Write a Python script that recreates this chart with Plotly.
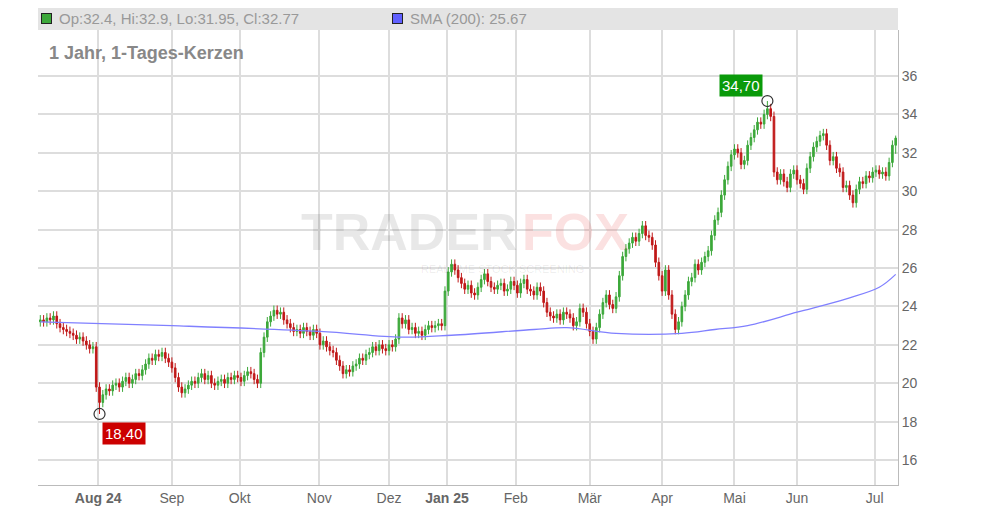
import plotly.graph_objects as go

closes = [
23.3,23.2,23.4,23.3,23.5,23.1,22.9,22.8,22.7,22.6,
22.5,22.3,22.4,22.2,22.0,21.8,21.9,19.8,19.0,19.4,
19.7,19.6,19.9,20.0,19.8,20.1,20.3,20.0,20.2,20.5,
20.4,20.7,21.0,21.3,21.2,21.5,21.4,21.6,21.3,21.1,
20.8,20.3,19.8,19.5,19.7,19.9,20.1,20.0,20.3,20.5,
20.2,20.4,20.0,19.9,20.1,20.2,20.0,20.3,20.2,20.4,
20.3,20.1,20.4,20.6,20.5,20.2,20.0,21.6,22.4,23.2,
23.5,23.8,23.6,23.7,23.3,23.1,22.9,22.7,22.8,22.6,
22.9,22.7,22.5,22.8,22.6,22.0,22.2,21.9,21.7,21.6,
21.2,20.9,20.5,20.7,20.6,20.9,21.0,21.3,21.2,21.5,
21.6,21.9,21.7,22.0,21.8,21.7,22.0,21.9,22.3,23.4,
23.1,23.3,22.8,22.9,22.6,22.7,22.5,22.8,23.0,22.9,
23.0,23.1,23.0,24.8,25.8,26.2,25.9,25.5,25.2,24.9,
25.1,24.7,24.6,25.0,25.4,25.7,25.3,25.0,24.9,25.1,
25.2,24.8,24.9,25.3,25.1,24.7,25.2,25.4,24.9,24.8,
24.6,25.0,24.8,24.2,23.7,23.5,23.4,23.6,23.3,23.7,
23.6,23.4,23.0,23.2,23.9,23.7,23.1,22.7,22.3,22.9,
23.6,24.2,24.6,24.1,23.9,24.5,25.6,26.6,27.0,27.3,
27.6,27.4,27.8,28.2,27.7,27.6,27.2,26.3,25.6,24.8,
25.9,24.6,23.6,22.8,23.2,24.0,24.6,25.3,25.5,26.2,
25.9,26.3,26.6,26.9,27.7,28.5,28.9,29.8,30.6,31.3,
31.9,32.2,32.0,31.4,31.6,32.4,32.8,33.2,33.6,33.5,
34.0,34.3,33.9,31.0,30.6,30.9,30.5,30.2,30.9,31.1,
30.6,30.4,30.1,31.2,31.8,32.3,32.6,32.9,33.0,32.4,
31.6,31.8,31.2,31.0,30.2,30.3,29.8,29.4,30.1,30.5,
30.4,30.8,30.7,31.0,31.1,30.9,31.0,30.8,31.5,32.4,
32.77]
first_open = 23.2
last_open, last_high, last_low = 32.4, 32.9, 31.95
low_idx, low_val = 18, 18.40
high_idx, high_val = 221, 34.70

sma_x = [0, 40, 85, 110, 125, 150, 160, 175, 195, 205, 215, 230, 245, 255, 260]
sma_y = [23.2, 23.0, 22.7, 22.4, 22.5, 22.8, 22.9, 22.6, 22.6, 22.8, 23.0, 23.7, 24.4, 25.0, 25.67]

month_pos = [17.6, 40, 60.6, 84.8, 106, 123.6, 144.5, 167, 189, 211, 230, 253.6]
month_lbl = ["<b>Aug 24</b>", "Sep", "Okt", "Nov", "Dez", "<b>Jan 25</b>", "Feb", "Mär", "Apr", "Mai", "Jun", "Jul"]

n = len(closes)
x = list(range(n))
opens = [first_open] + closes[:-1]
opens[-1] = last_open
highs = [max(o, c) + 0.25 for o, c in zip(opens, closes)]
lows = [min(o, c) - 0.25 for o, c in zip(opens, closes)]
highs[-1], lows[-1] = last_high, last_low
lows[low_idx] = low_val
highs[high_idx] = high_val

fig = go.Figure()
fig.add_trace(go.Scatter(x=sma_x, y=sma_y, mode="lines", line=dict(color="#8080ff", width=1.3, shape="spline"), hoverinfo="skip"))
fig.add_trace(go.Candlestick(x=x, open=opens, high=highs, low=lows, close=closes,
    increasing=dict(line=dict(color="#3ca83a", width=1), fillcolor="#3ca83a"),
    decreasing=dict(line=dict(color="#c01818", width=1), fillcolor="#c01818"),
    whiskerwidth=0))
fig.add_trace(go.Scatter(x=[low_idx, high_idx], y=[low_val, high_val], mode="markers",
    marker=dict(size=11, color="rgba(0,0,0,0)", line=dict(color="#333", width=1.2)), hoverinfo="skip"))

fig.add_annotation(x=low_idx, y=low_val, text="18,40", showarrow=False, xanchor="left", yanchor="top",
    xshift=2, yshift=-8, bgcolor="#cc0000", font=dict(color="white", size=15, family="Liberation Sans"), borderpad=2)
fig.add_annotation(x=high_idx, y=high_val, text="34,70", showarrow=False, xanchor="right", yanchor="bottom",
    xshift=-4, yshift=4, bgcolor="#0a9a0a", font=dict(color="white", size=15, family="Liberation Sans"), borderpad=2)

# header band
fig.add_shape(type="rect", xref="paper", yref="paper", x0=0, x1=1, y0=1.0, y1=1.05, fillcolor="#e4e4e4", line_width=0, layer="below")
for xx, col in [(0.004, "#3ca83a"), (0.412, "#6060ff")]:
    fig.add_annotation(xref="paper", yref="paper", x=xx, y=1.025, xanchor="left", yanchor="middle", showarrow=False,
        text=" ", width=9, height=9, bgcolor=col, bordercolor="#222", borderwidth=1, borderpad=0)
fig.add_annotation(xref="paper", yref="paper", x=0.022, y=1.025, xanchor="left", yanchor="middle", showarrow=False,
    text="Op:32.4, Hi:32.9, Lo:31.95, Cl:32.77", font=dict(size=15, color="#999", family="Liberation Sans"))
fig.add_annotation(xref="paper", yref="paper", x=0.43, y=1.025, xanchor="left", yanchor="middle", showarrow=False,
    text="SMA (200): 25.67", font=dict(size=15, color="#999", family="Liberation Sans"))
fig.add_annotation(xref="paper", yref="paper", x=0.01, y=0.975, xanchor="left", yanchor="top", showarrow=False,
    text="<b>1 Jahr, 1-Tages-Kerzen</b>", font=dict(size=18, color="#888", family="Liberation Sans"))
# watermark
fig.add_annotation(xref="paper", yref="paper", x=0.56, y=0.555, xanchor="right", showarrow=False,
    text="<b>TRADER</b>", font=dict(size=52, color="rgba(0,0,0,0.09)", family="Liberation Sans"))
fig.add_annotation(xref="paper", yref="paper", x=0.56, y=0.555, xanchor="left", showarrow=False,
    text="<b>FOX</b>", font=dict(size=52, color="rgba(230,70,70,0.16)", family="Liberation Sans"))
fig.add_annotation(xref="paper", yref="paper", x=0.54, y=0.475, showarrow=False,
    text="REALTIME STOCK SCREENING", font=dict(size=11, color="rgba(0,0,0,0.08)", family="Liberation Sans"))

fig.update_layout(width=992, height=511, margin=dict(l=30, r=102, t=22, b=34),
    paper_bgcolor="white", plot_bgcolor="white", showlegend=False,
    xaxis=dict(range=[-0.7, n - 0.3], rangeslider=dict(visible=False), tickvals=month_pos, ticktext=month_lbl,
        showgrid=True, gridcolor="#dddddd", gridwidth=1.5, tickfont=dict(size=14, color="#666", family="Liberation Sans"),
        showline=True, linecolor="#bbb", ticks="", zeroline=False),
    yaxis=dict(range=[14.7, 38.4], side="right", tickvals=list(range(16, 37, 2)), showgrid=True, gridcolor="#dddddd", gridwidth=1.5,
        tickfont=dict(size=14, color="#666", family="Liberation Sans"), showline=True, linecolor="#bbb", zeroline=False))
fig.write_html("out.html")
